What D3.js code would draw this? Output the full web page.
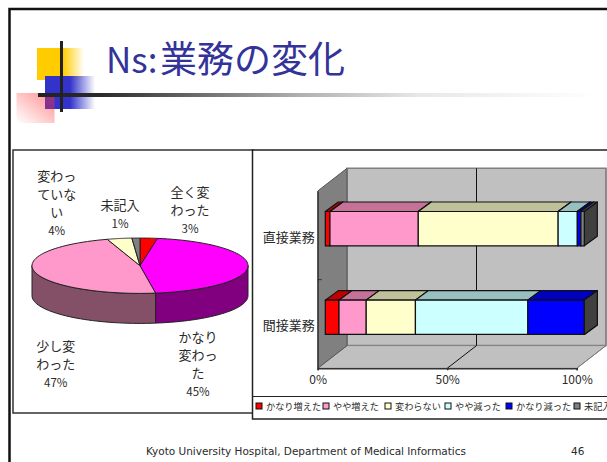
<!DOCTYPE html>
<html><head><meta charset="utf-8">
<style>html,body{margin:0;padding:0;background:#fff;overflow:hidden}svg{display:block}text{font-family:"Noto Sans CJK JP","Noto Sans",sans-serif;fill:#2a2a2a}</style>
<script src="https://cdn.jsdelivr.net/npm/d3@7"></script></head><body>
<script>
const titleLatin = "Ns:";
const titleCjk = "業務の変化";
const footerText = "Kyoto University Hospital, Department of Medical Informatics";
const pageNumber = "46";
const pieLabels = [["全く変","わった"],["かなり","変わっ","た"],["少し変","わった"],["変わっ","ていな","い"],["未記入"]];
const pieValues = [2.6,45.1,47.4,3.7,1.2];
const pieColors = ["#ff0000","#ff00ff","#ff99cc","#ffffcc","#808080"];
const pieSideColors = ["#800000","#800080","#845068","#808066","#404040"];
const barCategories = ["直接業務","間接業務"];
const barSeries = ["かなり増えた","やや増えた","変わらない","やや減った","かなり減った","未記入"];
const directValues = [1.8,34.1,54.0,7.4,1.4,1.3];
const indirectValues = [5.3,10.5,19.0,43.4,21.8,0];
const barColors = ["#ff0000","#ff99cc","#ffffcc","#ccffff","#0000ff","#808080"];
const barTopColors = ["#c00000","#c47298","#c0c09a","#99c0c0","#0000c0","#606060"];
const barSideColors = ["#800000","#804d66","#808066","#668080","#000080","#404040"];
const axisTicks = [0,50,100];

const W=607,H=462;
const svg=d3.select("body").append("svg").attr("width",W).attr("height",H);
const defs=svg.append("defs");
function grad(id,stops,x1=0,y1=0,x2=1,y2=0){
  const g=defs.append("linearGradient").attr("id",id).attr("x1",x1).attr("y1",y1).attr("x2",x2).attr("y2",y2);
  stops.forEach(s=>g.append("stop").attr("offset",s[0]).attr("stop-color",s[1]).attr("stop-opacity",s[2]));
}
grad("gy",[[0,"#ffcc00",1],[0.55,"#ffcc00",1],[1,"#ffcc00",0]]);
grad("gb",[[0,"#3333cc",1],[0.5,"#3333cc",1],[1,"#3333cc",0]]);
grad("gr",[[0,"#ff3333",0.55],[1,"#ff3333",0]],1,0,0,1);
grad("gl",[[0,"#222",1],[0.11,"#2a2a2a",1],[0.466,"#b0b0b0",1],[0.68,"#e8e8e8",1],[1,"#fff",1]]);

// slide frame + decoration
svg.append("rect").attr("x",9.5).attr("y",9).attr("width",W).attr("height",H).attr("fill","#fff").attr("stroke","#111").attr("stroke-width",2.5);
svg.append("rect").attr("x",37).attr("y",48).attr("width",47).attr("height",32).attr("fill","url(#gy)");
svg.append("rect").attr("x",45).attr("y",76).attr("width",50).attr("height",33).attr("fill","url(#gb)");
svg.append("rect").attr("x",16.5).attr("y",93).attr("width",38).attr("height",30).attr("fill","url(#gr)");
svg.append("rect").attr("x",38).attr("y",93).attr("width",562).attr("height",4).attr("fill","url(#gl)");
svg.append("rect").attr("x",60).attr("y",41).attr("width",3).attr("height",71).attr("fill","#222");
svg.append("text").attr("x",106).attr("y",73).attr("font-size",35).style("fill","#333399").text(titleLatin);
svg.append("text").attr("x",160).attr("y",73).attr("font-size",37).style("fill","#333399").text(titleCjk);

svg.append("text").attr("x",146).attr("y",455).attr("font-size",10.5).style("font-family","'DejaVu Sans'").attr("textLength",320).text(footerText);
svg.append("text").attr("x",571).attr("y",455).attr("font-size",10.5).style("font-family","'DejaVu Sans'").text(pageNumber);

// pie panel
const piePanel=svg.append("g");
piePanel.append("rect").attr("x",13).attr("y",150).attr("width",240).attr("height",263).attr("fill","#fff").attr("stroke","#333").attr("stroke-width",1.5);
const cx=140,cy=265.7,rx=108,ry=27.7,depth=30;
const pie=d3.pie().sort(null).value(d=>d)(pieValues);
const px=a=>cx+rx*Math.sin(a), py=a=>cy-ry*Math.cos(a);
const pieG=piePanel.append("g").attr("stroke","#222").attr("stroke-width",1);
pie.forEach((s,i)=>{
  const a0=Math.max(s.startAngle,Math.PI/2),a1=Math.min(s.endAngle,Math.PI*1.5);
  if(a1<=a0)return;
  const p=d3.path();
  p.moveTo(px(a0),py(a0));
  p.lineTo(px(a0),py(a0)+depth);
  const n=40; for(let k=1;k<=n;k++){const a=a0+(a1-a0)*k/n;p.lineTo(px(a),py(a)+depth);}
  p.lineTo(px(a1),py(a1));
  for(let k=n-1;k>=0;k--){const a=a0+(a1-a0)*k/n;p.lineTo(px(a),py(a));}
  p.closePath();
  pieG.append("path").attr("d",p.toString()).attr("fill",pieSideColors[i]);
});
pieG.selectAll("path.top").data(pie).join("path").attr("class","top")
  .attr("d",d=>{const p=d3.path();p.moveTo(cx,cy);const n=60;for(let k=0;k<=n;k++){const a=d.startAngle+(d.endAngle-d.startAngle)*k/n;p.lineTo(px(a),py(a));}p.closePath();return p.toString();})
  .attr("fill",(d,i)=>pieColors[i]);
const pieLabelCentres=[[190,192.7],[198,337],[55.7,346],[56.7,176.7],[120,205]];
pieLabels.forEach((lines,i)=>{
  const t=piePanel.append("text").attr("text-anchor","middle");
  const all=lines.concat([d3.format(".0f")(pieValues[i])+"%"]);
  all.forEach((l,k)=>{
    const pct=k===lines.length;
    t.append("tspan").attr("x",pieLabelCentres[i][0]).attr("y",pieLabelCentres[i][1]+4.5+k*18).attr("font-size",pct?11.5:13).text(l);
  });
});

// bar panel
const barPanel=svg.append("g");
barPanel.append("rect").attr("x",252.5).attr("y",150).attr("width",360).attr("height",269).attr("fill","#fff").attr("stroke","#222").attr("stroke-width",1.5);
const floorY=368.3,wallTop=191,dx=29.3,dy=-22.7;
const x=d3.scaleLinear().domain([0,100]).range([317.7,576.7]);
const y=d3.scaleBand().domain(barCategories).range([wallTop,floorY]);
// walls
barPanel.append("path").attr("d",`M${x(0)+dx},${wallTop+dy}H${x(100)+dx}V${floorY+dy}H${x(0)+dx}Z`).attr("fill","#c0c0c0").attr("stroke","#808080").attr("stroke-width",1.5);
barPanel.append("path").attr("d",`M${x(0)},${floorY}L${x(100)},${floorY}L${x(100)+dx},${floorY+dy}H${x(0)+dx}Z`).attr("fill","#c0c0c0").attr("stroke","#808080");
barPanel.append("path").attr("d",`M${x(0)},${wallTop}L${x(0)+dx},${wallTop+dy}V${floorY+dy}L${x(0)},${floorY}Z`).attr("fill","#808080").attr("stroke","#555");
axisTicks.slice(1).forEach(t=>{
  barPanel.append("path").attr("fill","none").attr("stroke",t===100?"#808080":"#111").attr("d",`M${x(t)},${floorY}L${x(t)+dx},${floorY+dy}V${wallTop+dy}`);
});
// axes
const xAxis=barPanel.append("g").attr("transform",`translate(0,${floorY})`).call(d3.axisBottom(x).tickValues(axisTicks).tickFormat(d=>d+"%").tickSize(2));
xAxis.selectAll("text").attr("font-size",12).attr("dy","0.9em").style("font-family","'Noto Sans CJK JP'");
xAxis.selectAll("path,line").attr("stroke","#333").attr("stroke-width",1.5);
const yAxis=barPanel.append("g").attr("transform",`translate(${x(0)},0)`).call(d3.axisLeft(y).tickSize(0).tickPadding(3));
yAxis.selectAll("text").attr("font-size",13).attr("dy","0.5em");
yAxis.select("path").attr("stroke","#333").attr("stroke-width",1.2);
barPanel.append("line").attr("x1",x(0)).attr("x2",x(0)+4).attr("y1",y.step()+wallTop).attr("y2",y.step()+wallTop).attr("stroke","#333");
// bars
const barH=34.3,off=7.6,fdy=-6.7,bdx=13,bdy=-9.5;
[directValues,indirectValues].forEach((vals,ci)=>{
  const top=y(barCategories[ci])+y.bandwidth()/2-barH/2+fdy;
  let acc=0;
  const g=barPanel.append("g").attr("stroke","#111").attr("stroke-width",1.2).attr("stroke-linejoin","round");
  vals.forEach((v,i)=>{
    const x0=x(acc)+off,x1=x(acc+v)+off; acc+=v;
    g.append("path").attr("d",`M${x0},${top}L${x0+bdx},${top+bdy}H${x1+bdx}L${x1},${top}Z`).attr("fill",barTopColors[i]);
    g.append("path").attr("d",`M${x1},${top}L${x1+bdx},${top+bdy}V${top+bdy+barH}L${x1},${top+barH}Z`).attr("fill",barSideColors[i]);
    if(v>0)g.append("rect").attr("x",x0).attr("y",top).attr("width",x1-x0).attr("height",barH).attr("fill",barColors[i]);
  });
});
// legend
const legend=barPanel.append("g");
legend.append("line").attr("x1",253).attr("x2",W).attr("y1",396.5).attr("y2",396.5).attr("stroke","#222").attr("stroke-width",1.2);
const legendStarts=[256,323,385,445,506,574];
barSeries.forEach((s,i)=>{
  legend.append("rect").attr("x",legendStarts[i]).attr("y",403).attr("width",6).attr("height",6).attr("fill",barColors[i]).attr("stroke","#111");
  legend.append("text").attr("x",legendStarts[i]+10).attr("y",410).attr("font-size",9.2).text(s);
});
</script></body></html>
